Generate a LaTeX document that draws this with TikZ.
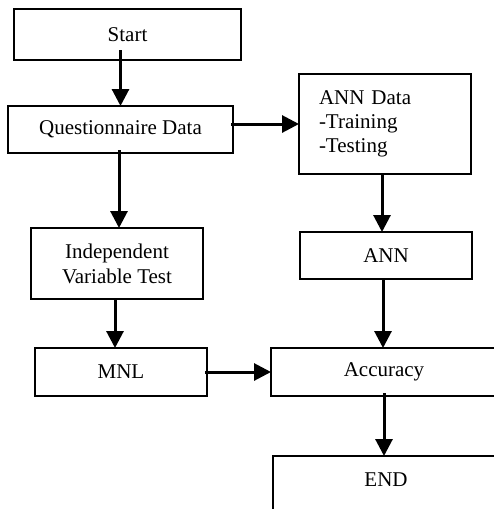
\documentclass[tikz,border=0pt]{standalone}
\usepackage{fontspec}
\setmainfont{Liberation Serif}
\usetikzlibrary{arrows.meta}
\begin{document}
\begin{tikzpicture}[x=1pt,y=-1pt,
  box/.style={draw,line width=2pt,outer sep=0pt,inner sep=0pt,align=center,
    font=\fontsize{21}{25}\selectfont},
  flow/.style={line width=3pt,-{Triangle[length=17pt,width=17pt]}},
]
\useasboundingbox (0,0) rectangle (494,509);
\clip (0,0) rectangle (494,509);

% process boxes
\node[box,minimum width=227pt,minimum height=51pt] (start) at (127.5,34.5) {Start};
\node[box,minimum width=225pt,minimum height=47pt] (quest) at (120.5,129.5) {Questionnaire Data};
\node[box,minimum width=172pt,minimum height=100pt,text width=132pt,inner xsep=20pt,
  align=left,font=\fontsize{21}{24}\selectfont] (anndata) at (385,124)
  {ANN Data\\-Training\\-Testing};
\node[box,minimum width=172pt,minimum height=47pt] (ann) at (386,255.5) {ANN};
\node[box,minimum width=172pt,minimum height=71pt] (indep) at (117,263.5)
  {Independent\\Variable Test};
\node[box,minimum width=172pt,minimum height=48pt] (mnl) at (121,372) {MNL};
\node[box,minimum width=226pt,minimum height=48pt] (acc) at (384,372) {Accuracy};
\node[box,minimum width=226pt,minimum height=64pt,text height=14pt,text depth=18pt]
  (end) at (386,488) {END};

% connectors
\draw[flow,shorten <=-10pt] (start.south -| quest.north) -- (quest.north);
\draw[flow,shorten <=-3pt] ([xshift=-1.5pt]quest.south) -- ([xshift=-1.5pt]quest.south |- indep.north);
\draw[flow,shorten <=-2pt] (quest.east |- anndata.west) -- (anndata.west);
\draw[flow] ([xshift=-3pt]anndata.south) -- ([xshift=-3pt]anndata.south |- ann.north);
\draw[flow] ([xshift=-3pt]ann.south) -- ([xshift=-3pt]ann.south |- acc.north);
\draw[flow] ([xshift=-2pt]indep.south) -- ([xshift=-2pt]indep.south |- mnl.north);
\draw[flow,shorten <=-2pt] (mnl.east) -- (acc.west);
\draw[flow,shorten <=-3pt] (acc.south) -- (acc.south |- end.north);
\end{tikzpicture}
\end{document}
